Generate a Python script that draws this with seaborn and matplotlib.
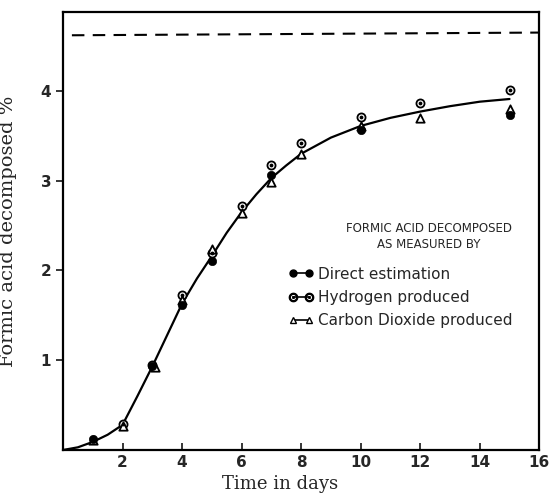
import numpy as np
import pandas as pd
import seaborn as sns
import matplotlib.pyplot as plt
from matplotlib.lines import Line2D

# smooth curve drawn through the points
curve_t = [0, 0.5, 1, 1.5, 2, 2.5, 3, 3.5, 4, 4.5, 5, 5.5, 6, 6.5, 7, 7.5, 8, 9, 10, 11, 12, 13, 14, 15]
curve_y = [0, 0.03, 0.09, 0.17, 0.28, 0.60, 0.93, 1.28, 1.63, 1.91, 2.16, 2.42, 2.65, 2.85, 3.03, 3.17, 3.30, 3.48, 3.61, 3.70, 3.77, 3.83, 3.88, 3.91]

# measurements
direct_t = [1, 3, 4, 5, 7, 10, 15]
direct_y = [0.12, 0.94, 1.62, 2.11, 3.06, 3.56, 3.73]

hydrogen_t = [2, 3, 4, 5, 6, 7, 8, 10, 12, 15]
hydrogen_y = [0.29, 0.95, 1.73, 2.19, 2.72, 3.18, 3.42, 3.71, 3.87, 4.01]

co2_t = [1, 2, 3.1, 4, 5, 6, 7, 8, 10, 12, 15]
co2_y = [0.11, 0.27, 0.93, 1.67, 2.24, 2.64, 2.98, 3.30, 3.61, 3.70, 3.80]

# theoretical limit (dashed)
limit_t = [0.3, 16]
limit_y = [4.62, 4.65]

sns.set_style("ticks")
plt.rcParams["font.family"] = ["DejaVu Sans"]

fig = plt.figure(figsize=(5.5, 4.95), dpi=100)
ax = fig.add_axes([0.1145, 0.0909, 0.866, 0.885])

sns.lineplot(x=curve_t, y=curve_y, ax=ax, color="black", lw=1.6)
sns.lineplot(x=limit_t, y=limit_y, ax=ax, color="black", lw=1.5, dashes=False, linestyle=(0, (6, 4)))

sns.scatterplot(x=hydrogen_t, y=hydrogen_y, ax=ax, marker="o", s=34, facecolor="white",
                edgecolor="black", linewidth=1.3, zorder=3)
ax.scatter(hydrogen_t, hydrogen_y, s=3, color="black", zorder=4)
sns.scatterplot(x=co2_t, y=co2_y, ax=ax, marker="^", s=36, facecolor="white",
                edgecolor="black", linewidth=1.3, zorder=3)
sns.scatterplot(x=direct_t, y=direct_y, ax=ax, marker="o", s=36, color="black",
                edgecolor="black", zorder=5)

ax.set_xlim(0, 16)
ax.set_ylim(0, 4.88)
ax.set_xticks([2, 4, 6, 8, 10, 12, 14, 16])
ax.set_yticks([1, 2, 3, 4])
ax.tick_params(axis="x", direction="in", length=5, width=1.3, labelsize=11)
ax.tick_params(axis="y", direction="out", length=5, width=1.3, labelsize=11)
for lab in ax.get_xticklabels() + ax.get_yticklabels():
    lab.set_fontweight("bold")
for sp in ax.spines.values():
    sp.set_linewidth(1.6)
    sp.set_color("black")

ax.set_xlabel("Time in days", family="DejaVu Serif", fontsize=13)
ax.xaxis.set_label_coords(0.455, -0.058)
ax.set_ylabel("Formic acid decomposed %", family="DejaVu Serif", fontsize=14)
ax.yaxis.set_label_coords(-0.097, 0.5)

ax.text(0.769, 0.505, "FORMIC ACID DECOMPOSED", transform=ax.transAxes, ha="center",
        va="center", fontsize=8.5)
ax.text(0.769, 0.47, "AS MEASURED BY", transform=ax.transAxes, ha="center",
        va="center", fontsize=8.5)

handles = [
    Line2D([], [], color="black", lw=1.2, marker="o", ms=5, mfc="black", mec="black"),
    Line2D([], [], color="black", lw=1.2, marker=r"$\odot$", ms=6),
    Line2D([], [], color="black", lw=1.2, marker="^", ms=4.5, mfc="white", mec="black"),
]
labels = ["Direct estimation", "Hydrogen produced", "Carbon Dioxide produced"]
ax.legend(handles, labels, loc="upper left", bbox_to_anchor=(0.445, 0.45), frameon=False,
          numpoints=2, handlelength=1.6, handletextpad=0.3, labelspacing=0.55, fontsize=11)

fig.savefig("out.png", dpi=100)
